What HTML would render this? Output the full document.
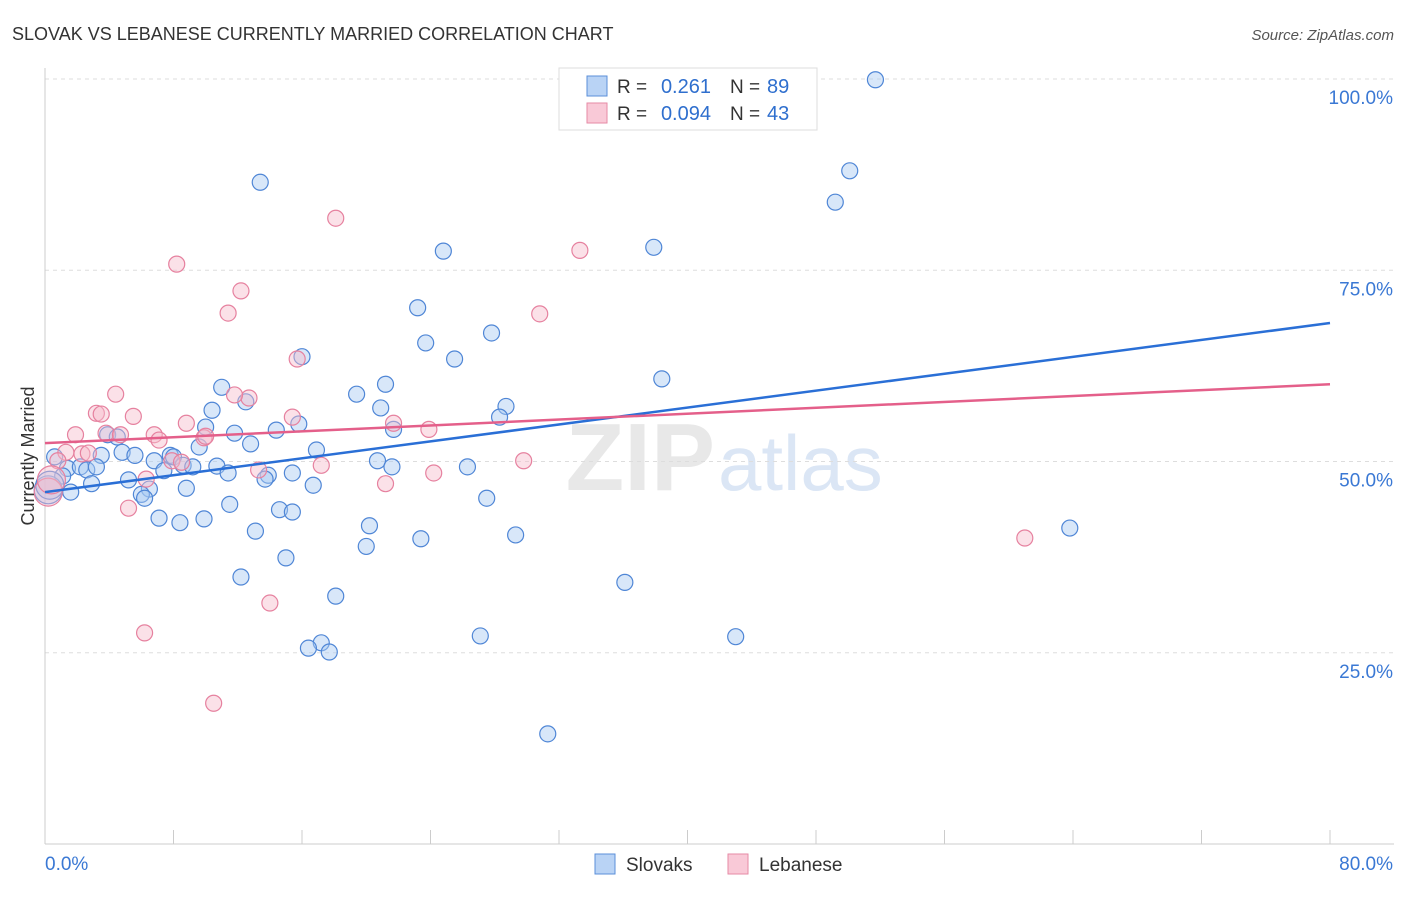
<!DOCTYPE html>
<html><head><meta charset="utf-8"><style>
body{margin:0;background:#fff;font-family:"Liberation Sans",sans-serif;}
svg text{font-family:"Liberation Sans",sans-serif;}
</style></head><body>
<svg id="chart" width="1406" height="892" viewBox="0 0 1406 892" xmlns="http://www.w3.org/2000/svg">
<text x="12" y="40" font-size="18" fill="#333">SLOVAK VS LEBANESE CURRENTLY MARRIED CORRELATION CHART</text>
<text x="1394" y="40" font-size="15" fill="#555" font-style="italic" text-anchor="end">Source: ZipAtlas.com</text>
<text x="715" y="490" font-size="96" fill="#e8e8e8" text-anchor="end" font-family="Liberation Serif" font-weight="bold">ZIP</text>
<text x="718" y="490" font-size="78" fill="#dbe6f5">atlas</text>
<g id="grid"></g>
<g id="axes"></g>
<g id="pts"></g>
<g id="trend"></g>
<text transform="translate(34,456) rotate(-90)" font-size="18" fill="#333" text-anchor="middle">Currently Married</text>
<g>
<rect x="559" y="68" width="258" height="62" fill="#fff" stroke="#ddd"/>
<rect x="587" y="76" width="20" height="20" fill="#b9d3f5" stroke="#5b8fd9"/>
<rect x="587" y="103" width="20" height="20" fill="#f9c9d7" stroke="#e68aa6"/>
<text x="617" y="93" font-size="19" fill="#333">R =</text>
<text x="711" y="93" font-size="20" fill="#2f6fce" text-anchor="end">0.261</text>
<text x="730" y="93" font-size="19" fill="#333">N =</text>
<text x="767" y="93" font-size="20" fill="#2f6fce">89</text>
<text x="617" y="120" font-size="19" fill="#333">R =</text>
<text x="711" y="120" font-size="20" fill="#2f6fce" text-anchor="end">0.094</text>
<text x="730" y="120" font-size="19" fill="#333">N =</text>
<text x="767" y="120" font-size="20" fill="#2f6fce">43</text>
</g>
<g>
<rect x="595" y="854" width="20" height="20" fill="#b9d3f5" stroke="#5b8fd9"/>
<text x="626" y="871" font-size="19" fill="#333">Slovaks</text>
<rect x="728" y="854" width="20" height="20" fill="#f9c9d7" stroke="#e68aa6"/>
<text x="759" y="871" font-size="19" fill="#333">Lebanese</text>
</g>
</svg>
<script>
const xTickLabels=["0.0%","80.0%"];
const yTicks=[25,50,75,100];
const yTickLabels=["25.0%","50.0%","75.0%","100.0%"];
const blueX=[51.7,50.1,49.2,13.4,37.9,24.8,23.2,23.7,27.8,16.0,25.5,38.4,21.2,19.4,11.0,10.4,20.9,28.7,28.3,12.5,15.8,21.7,10.0,11.8,14.4,12.8,16.9,9.6,3.9,4.5,3.5,4.8,5.6,7.8,8.0,6.8,8.6,9.2,10.7,11.4,7.4,20.7,21.6,26.3,15.4,13.9,13.7,16.7,0.6,1.4,2.2,2.6,3.2,1.1,2.9,5.2,8.8,6.5,6.0,6.2,1.6,11.5,14.6,15.4,27.5,7.1,8.4,9.9,13.1,20.2,20.0,23.4,29.3,15.0,12.2,36.1,18.1,27.1,43.0,17.2,16.4,17.7,31.3,63.8,0.2,0.3];
const blueY=[99.9,88.0,83.9,86.5,78.0,77.5,70.1,65.5,66.8,63.7,63.4,60.8,60.1,58.8,59.7,56.7,57.0,57.2,55.8,57.8,54.9,54.2,54.5,53.7,54.1,52.3,51.5,51.9,53.5,53.2,50.8,51.2,50.8,50.8,50.6,50.1,49.5,49.3,49.4,48.5,48.8,50.1,49.3,49.3,48.5,48.2,47.7,46.9,50.6,49.1,49.3,48.9,49.3,48.1,47.1,47.6,46.5,46.4,45.7,45.2,46.0,44.4,43.7,43.4,45.2,42.6,42.0,42.5,40.9,41.6,38.9,39.9,40.4,37.4,34.9,34.2,32.4,27.2,27.1,26.3,25.6,25.1,14.4,41.3,46.3,46.9];
const pinkX=[18.1,8.2,33.3,12.2,11.4,30.8,15.7,4.4,3.2,3.5,5.5,12.7,11.8,8.8,15.4,21.7,23.9,1.9,3.8,4.7,6.8,7.1,9.9,10.0,2.3,2.7,1.3,0.8,7.9,8.5,17.2,29.8,13.3,6.3,24.2,21.2,5.2,61.0,14.0,6.2,10.5,0.2,0.4];
const pinkY=[81.8,75.8,77.6,72.3,69.4,69.3,63.4,58.8,56.3,56.2,55.9,58.3,58.7,55.0,55.8,55.0,54.2,53.5,53.7,53.5,53.5,52.8,53.1,53.3,51.0,51.1,51.2,50.1,50.1,49.9,49.5,50.1,48.9,47.7,48.5,47.1,43.9,40.0,31.5,27.6,18.4,46.0,47.6];
const blueTrend=[46.0,68.1];
const pinkTrend=[52.4,60.1];
const NS="http://www.w3.org/2000/svg";
const X=v=>45+v/80*1285, Y=v=>844-v/100*765;
function mk(t,a,p){const e=document.createElementNS(NS,t);for(const k in a)e.setAttribute(k,a[k]);document.getElementById(p).appendChild(e);return e;}
mk('line',{x1:45,x2:1394,y1:79,y2:79,stroke:'#ddd','stroke-dasharray':'4,4'},'grid');
yTicks.forEach((t,i)=>{
 const l=mk('line',{x1:45,x2:1394,y1:Y(t),y2:Y(t),stroke:'#ddd','stroke-dasharray':'4,4'},'grid');
 
 
 const tx=mk('text',{x:1393,y:Y(t)+25,'font-size':19,fill:'#3a78d4','text-anchor':'end'},'axes');
 tx.textContent=yTickLabels[i];
 
 
});
mk('line',{x1:45,x2:45,y1:68,y2:844,stroke:'#ccc'},'axes');
mk('line',{x1:45,x2:1394,y1:844,y2:844,stroke:'#ccc'},'axes');
for(let i=0;i<=10;i++){const t=mk('line',{x1:X(i*8),x2:X(i*8),y1:830,y2:844,stroke:'#ccc'},'axes');
 
 }
const l0=mk('text',{x:45,y:870,'font-size':19,fill:'#3a78d4'},'axes');l0.textContent=xTickLabels[0];


const l1=mk('text',{x:1393,y:870,'font-size':19,fill:'#3a78d4','text-anchor':'end'},'axes');l1.textContent=xTickLabels[1];


function pts(xs,ys,f,s,name){xs.forEach((x,i)=>{const big=x<0.5;
 const c=mk('circle',{cx:X(x),cy:Y(ys[i]),r:big?14:8,fill:f,'fill-opacity':0.45,stroke:s,'stroke-width':1.2},'pts');
 
 });}
pts(blueX,blueY,'#a9c9f2','#4f86d6','slovak-point');
pts(pinkX,pinkY,'#f7bccd','#e6819f','lebanese-point');
const bt=mk('line',{x1:X(0),y1:Y(blueTrend[0]),x2:X(80),y2:Y(blueTrend[1]),stroke:'#2a6fd6','stroke-width':2.5},'trend');


const pt=mk('line',{x1:X(0),y1:Y(pinkTrend[0]),x2:X(80),y2:Y(pinkTrend[1]),stroke:'#e45f8a','stroke-width':2.5},'trend');


</script>
</body></html>
